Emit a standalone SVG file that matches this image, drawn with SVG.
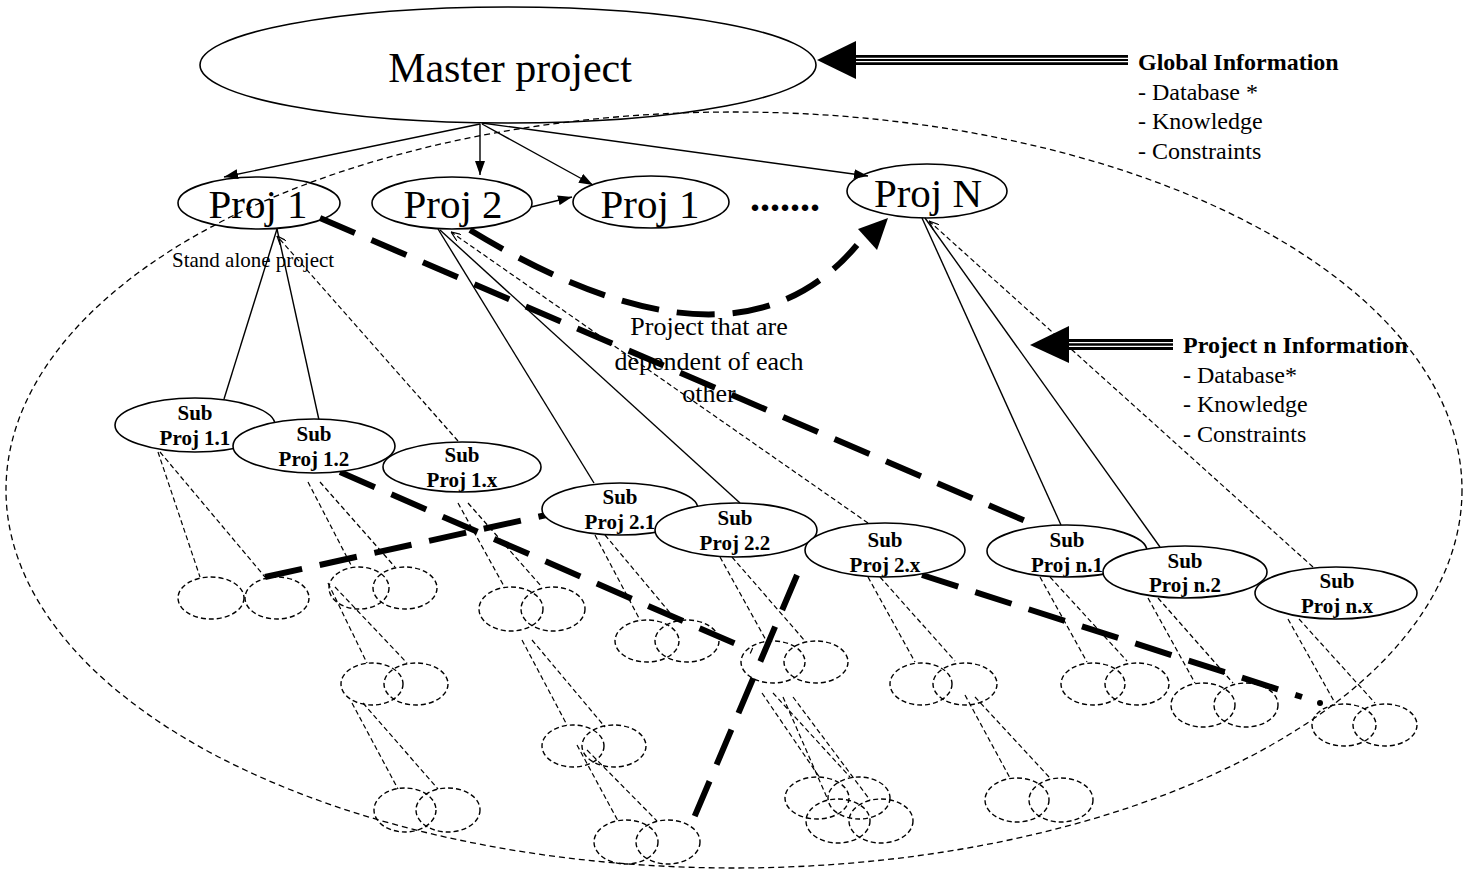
<svg xmlns="http://www.w3.org/2000/svg" width="1470" height="871" viewBox="0 0 1470 871">
<style>
  text { font-family: "Liberation Serif", "Times New Roman", serif; fill: #000; }
  .big { font-size: 42px; text-anchor: middle; }
  .proj { font-size: 41px; text-anchor: middle; }
  .sub { font-size: 21px; font-weight: bold; text-anchor: middle; }
  .info { font-size: 24px; }
  .infob { font-size: 24px; font-weight: bold; }
  .node { fill: #fff; stroke: #000; stroke-width: 1.6; }
  .leaf { fill: none; stroke: #000; stroke-width: 1.4; stroke-dasharray: 5 3; }
  .outer { fill: none; stroke: #000; stroke-width: 1.3; stroke-dasharray: 6 4; }
  .solid { fill: none; stroke: #000; stroke-width: 1.4; }
  .thin { fill: none; stroke: #000; stroke-width: 1.2; stroke-dasharray: 5 3; }
  .thick { fill: none; stroke: #000; stroke-width: 6; stroke-dasharray: 38 18; }
</style>
<defs>
  <marker id="arr" markerWidth="14" markerHeight="10" refX="14" refY="5" orient="auto" markerUnits="userSpaceOnUse">
    <path d="M0,0 L14,5 L0,10 Z" fill="#000"/>
  </marker>
  <marker id="tip" markerWidth="10" markerHeight="8" refX="10" refY="4" orient="auto" markerUnits="userSpaceOnUse">
    <path d="M0,0 L10,4 L0,8" fill="none" stroke="#000" stroke-width="1.2"/>
  </marker>
</defs>

<rect width="1470" height="871" fill="#fff"/>

<ellipse id="boundary" class="outer" cx="734" cy="490" rx="728" ry="378"/>

<g id="connectors">
  <!-- master to projects -->
  <line class="solid" x1="480" y1="124" x2="224" y2="177" marker-end="url(#arr)"/>
  <line class="solid" x1="480" y1="124" x2="480" y2="175" marker-end="url(#arr)"/>
  <line class="solid" x1="482" y1="124" x2="593" y2="185" marker-end="url(#arr)"/>
  <line class="solid" x1="482" y1="123" x2="868" y2="176" marker-end="url(#arr)"/>
  <line class="solid" x1="531" y1="207" x2="572" y2="197" marker-end="url(#arr)"/>

  <!-- projects to sub projects -->
  <line class="solid" x1="277" y1="229" x2="224" y2="399"/>
  <line class="solid" x1="277" y1="229" x2="319" y2="420"/>
  <line class="solid" x1="438" y1="229" x2="594" y2="483"/>
  <line class="solid" x1="440" y1="230" x2="740" y2="503"/>
  <line class="solid" x1="922" y1="218" x2="1061" y2="525"/>
  <line class="solid" x1="925" y1="218" x2="1160" y2="547"/>

  <line class="thin" x1="458" y1="441" x2="277" y2="236" marker-end="url(#tip)"/>
  <line class="thin" x1="868" y1="523" x2="451" y2="232" marker-end="url(#tip)"/>
  <line class="thin" x1="1313" y1="567" x2="929" y2="221" marker-end="url(#tip)"/>

  <!-- sub projects to leaves -->
  <line class="thin" x1="158" y1="452" x2="200" y2="577"/>
  <line class="thin" x1="160" y1="452" x2="265" y2="577"/>
  <line class="thin" x1="308" y1="482" x2="352" y2="567"/>
  <line class="thin" x1="320" y1="482" x2="395" y2="567"/>
  <line class="thin" x1="328" y1="583" x2="367" y2="663"/>
  <line class="thin" x1="335" y1="587" x2="407" y2="663"/>
  <line class="thin" x1="352" y1="703" x2="398" y2="789"/>
  <line class="thin" x1="363" y1="703" x2="438" y2="789"/>
  <line class="thin" x1="458" y1="503" x2="505" y2="588"/>
  <line class="thin" x1="468" y1="503" x2="542" y2="587"/>
  <line class="thin" x1="522" y1="640" x2="567" y2="725"/>
  <line class="thin" x1="532" y1="640" x2="605" y2="727"/>
  <line class="thin" x1="577" y1="745" x2="618" y2="821"/>
  <line class="thin" x1="587" y1="750" x2="657" y2="821"/>
  <line class="thin" x1="595" y1="535" x2="640" y2="620"/>
  <line class="thin" x1="605" y1="535" x2="676" y2="620"/>
  <line class="thin" x1="720" y1="557" x2="767" y2="642"/>
  <line class="thin" x1="732" y1="557" x2="805" y2="641"/>
  <line class="thin" x1="762" y1="693" x2="820" y2="778"/>
  <line class="thin" x1="773" y1="693" x2="850" y2="777"/>
  <line class="thin" x1="783" y1="697" x2="828" y2="800"/>
  <line class="thin" x1="793" y1="697" x2="870" y2="800"/>
  <line class="thin" x1="868" y1="577" x2="915" y2="662"/>
  <line class="thin" x1="880" y1="577" x2="955" y2="661"/>
  <line class="thin" x1="965" y1="695" x2="1010" y2="778"/>
  <line class="thin" x1="975" y1="697" x2="1050" y2="778"/>
  <line class="thin" x1="1040" y1="577" x2="1087" y2="662"/>
  <line class="thin" x1="1050" y1="577" x2="1127" y2="661"/>
  <line class="thin" x1="1148" y1="598" x2="1195" y2="683"/>
  <line class="thin" x1="1158" y1="598" x2="1233" y2="683"/>
  <line class="thin" x1="1288" y1="619" x2="1335" y2="703"/>
  <line class="thin" x1="1299" y1="619" x2="1375" y2="703"/>

  <!-- dependency lines -->
  <path class="thick" d="M470,230 Q735,391 857,245"/>
  <polygon points="888,218 858,229 877,250" fill="#000"/>
  <line class="thick" x1="320" y1="218" x2="1030" y2="523"/>
  <line class="thick" x1="340" y1="472" x2="752" y2="651"/>
  <line class="thick" x1="265" y1="577" x2="560" y2="512"/>
  <line class="thick" x1="797" y1="575" x2="688" y2="832"/>
  <line class="thick" x1="922" y1="575" x2="1302" y2="697"/>
  <circle cx="1320" cy="703" r="3" fill="#000"/>

  <!-- information arrows -->
  <rect x="853" y="55" width="275" height="10" fill="#000"/>
  <line x1="853" y1="58.3" x2="1128" y2="58.3" stroke="#fff" stroke-width="1.2"/>
  <line x1="853" y1="61.7" x2="1128" y2="61.7" stroke="#fff" stroke-width="1.2"/>
  <polygon points="817,60 856,41 856,79" fill="#000"/>

  <rect x="1066" y="339" width="107" height="11" fill="#000"/>
  <line x1="1066" y1="342.7" x2="1173" y2="342.7" stroke="#fff" stroke-width="1.2"/>
  <line x1="1066" y1="346.3" x2="1173" y2="346.3" stroke="#fff" stroke-width="1.2"/>
  <polygon points="1030,345 1069,326 1069,363" fill="#000"/>
</g>

<g id="master">
  <ellipse class="node" cx="508" cy="65" rx="308" ry="58" style="fill:none"/>
  <text class="big" x="510" y="82">Master project</text>
</g>

<g id="proj1">
  <ellipse class="node" cx="259" cy="203" rx="81" ry="26" style="fill:none"/>
  <text class="proj" x="258" y="218">Proj 1</text>
</g>
<g id="proj2">
  <ellipse class="node" cx="452" cy="203" rx="80" ry="26" style="fill:none"/>
  <text class="proj" x="453" y="218">Proj 2</text>
</g>
<g id="proj1b">
  <ellipse class="node" cx="651" cy="202" rx="78" ry="26" style="fill:none"/>
  <text class="proj" x="650" y="218">Proj 1</text>
</g>
<g id="ellipsis">
  <text x="750" y="211" style="font-size:40px;font-weight:bold">.......</text>
</g>
<g id="projN">
  <ellipse class="node" cx="927" cy="191" rx="80" ry="27" style="fill:none"/>
  <text class="proj" x="928" y="207">Proj N</text>
</g>

<g id="sub11">
  <ellipse class="node" cx="195" cy="425" rx="80" ry="27"/>
  <text class="sub" x="195" y="420">Sub</text>
  <text class="sub" x="195" y="445">Proj 1.1</text>
</g>
<g id="sub12">
  <ellipse class="node" cx="314" cy="446" rx="81" ry="27"/>
  <text class="sub" x="314" y="441">Sub</text>
  <text class="sub" x="314" y="466">Proj 1.2</text>
</g>
<g id="sub1x">
  <ellipse class="node" cx="462" cy="467" rx="79" ry="25"/>
  <text class="sub" x="462" y="462">Sub</text>
  <text class="sub" x="462" y="487">Proj 1.x</text>
</g>
<g id="sub21">
  <ellipse class="node" cx="620" cy="509" rx="78" ry="26"/>
  <text class="sub" x="620" y="504">Sub</text>
  <text class="sub" x="620" y="529">Proj 2.1</text>
</g>
<g id="sub22">
  <ellipse class="node" cx="736" cy="530" rx="81" ry="27"/>
  <text class="sub" x="735" y="525">Sub</text>
  <text class="sub" x="735" y="550">Proj 2.2</text>
</g>
<g id="sub2x">
  <ellipse class="node" cx="885" cy="550" rx="80" ry="27"/>
  <text class="sub" x="885" y="547">Sub</text>
  <text class="sub" x="885" y="572">Proj 2.x</text>
</g>
<g id="subn1">
  <ellipse class="node" cx="1067" cy="551" rx="80" ry="26"/>
  <text class="sub" x="1067" y="547">Sub</text>
  <text class="sub" x="1067" y="572">Proj n.1</text>
</g>
<g id="subn2">
  <ellipse class="node" cx="1185" cy="572" rx="82" ry="26"/>
  <text class="sub" x="1185" y="568">Sub</text>
  <text class="sub" x="1185" y="592">Proj n.2</text>
</g>
<g id="subnx">
  <ellipse class="node" cx="1336" cy="593" rx="81" ry="26"/>
  <text class="sub" x="1337" y="588">Sub</text>
  <text class="sub" x="1337" y="613">Proj n.x</text>
</g>

<g id="leaves">
  <ellipse class="leaf" cx="211" cy="598" rx="33" ry="21"/>
  <ellipse class="leaf" cx="277" cy="598" rx="32" ry="21"/>
  <ellipse class="leaf" cx="359" cy="588" rx="30" ry="21"/>
  <ellipse class="leaf" cx="405" cy="588" rx="32" ry="21"/>
  <ellipse class="leaf" cx="372" cy="684" rx="31" ry="21"/>
  <ellipse class="leaf" cx="416" cy="684" rx="32" ry="21"/>
  <ellipse class="leaf" cx="405" cy="810" rx="31" ry="22"/>
  <ellipse class="leaf" cx="448" cy="810" rx="32" ry="22"/>
  <ellipse class="leaf" cx="511" cy="609" rx="32" ry="22"/>
  <ellipse class="leaf" cx="553" cy="609" rx="32" ry="22"/>
  <ellipse class="leaf" cx="573" cy="746" rx="31" ry="21"/>
  <ellipse class="leaf" cx="614" cy="746" rx="32" ry="21"/>
  <ellipse class="leaf" cx="626" cy="842" rx="32" ry="22"/>
  <ellipse class="leaf" cx="668" cy="842" rx="32" ry="22"/>
  <ellipse class="leaf" cx="647" cy="641" rx="32" ry="21"/>
  <ellipse class="leaf" cx="687" cy="641" rx="32" ry="21"/>
  <ellipse class="leaf" cx="773" cy="662" rx="32" ry="21"/>
  <ellipse class="leaf" cx="816" cy="662" rx="32" ry="21"/>
  <ellipse class="leaf" cx="817" cy="798" rx="32" ry="21"/>
  <ellipse class="leaf" cx="859" cy="798" rx="31" ry="21"/>
  <ellipse class="leaf" cx="838" cy="821" rx="32" ry="22"/>
  <ellipse class="leaf" cx="881" cy="821" rx="32" ry="22"/>
  <ellipse class="leaf" cx="921" cy="684" rx="31" ry="21"/>
  <ellipse class="leaf" cx="965" cy="684" rx="32" ry="21"/>
  <ellipse class="leaf" cx="1017" cy="800" rx="32" ry="22"/>
  <ellipse class="leaf" cx="1061" cy="800" rx="32" ry="22"/>
  <ellipse class="leaf" cx="1093" cy="684" rx="32" ry="21"/>
  <ellipse class="leaf" cx="1137" cy="684" rx="32" ry="21"/>
  <ellipse class="leaf" cx="1203" cy="705" rx="32" ry="22"/>
  <ellipse class="leaf" cx="1246" cy="705" rx="32" ry="22"/>
  <ellipse class="leaf" cx="1344" cy="725" rx="32" ry="21"/>
  <ellipse class="leaf" cx="1385" cy="725" rx="32" ry="21"/>
</g>

<g id="labels">
  <text x="172" y="267" style="font-size:21px">Stand alone project</text>
  <text x="709" y="335" style="font-size:26px;text-anchor:middle">Project that are</text>
  <text x="709" y="370" style="font-size:26px;text-anchor:middle">dependent of each</text>
  <text x="709" y="402" style="font-size:26px;text-anchor:middle">other</text>
</g>

<g id="global-info">
  <text class="infob" x="1138" y="70">Global Information</text>
  <text class="info" x="1138" y="100">- Database *</text>
  <text class="info" x="1138" y="129">- Knowledge</text>
  <text class="info" x="1138" y="159">- Constraints</text>
</g>

<g id="project-n-info">
  <text class="infob" x="1183" y="353">Project n Information</text>
  <text class="info" x="1183" y="383">- Database*</text>
  <text class="info" x="1183" y="412">- Knowledge</text>
  <text class="info" x="1183" y="442">- Constraints</text>
</g>
</svg>
